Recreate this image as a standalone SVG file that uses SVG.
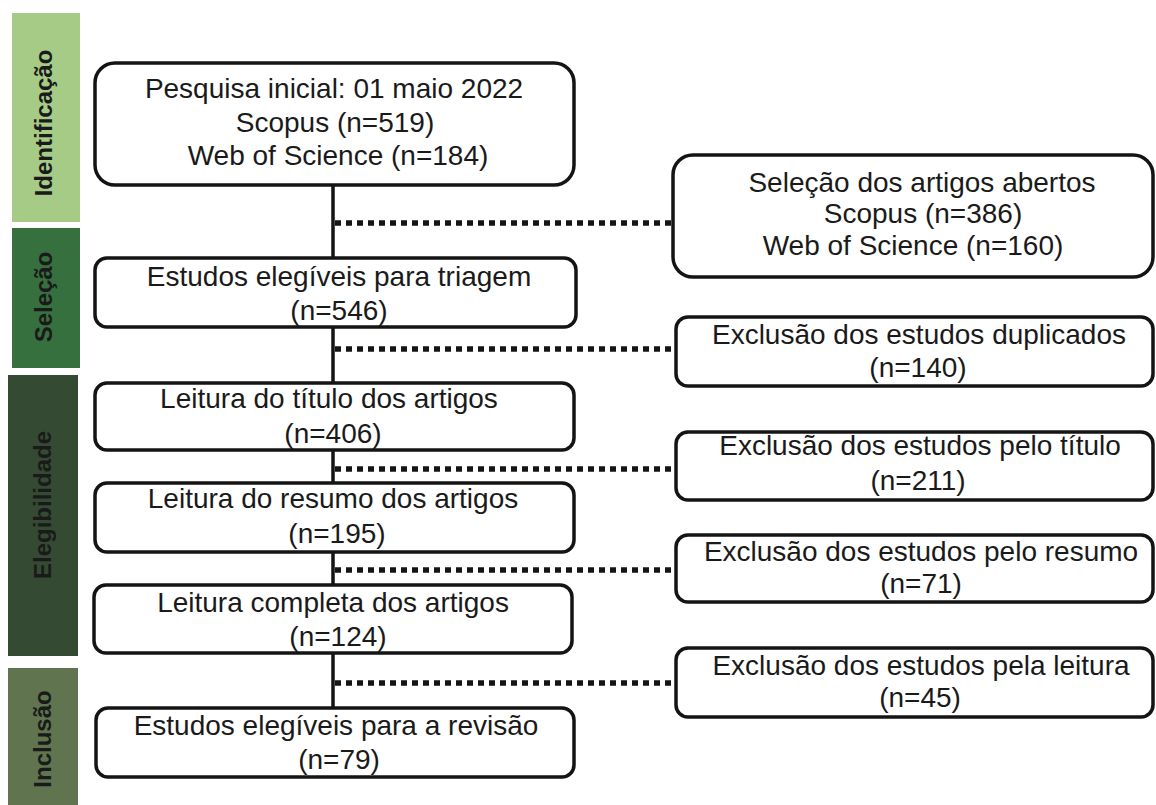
<svg xmlns="http://www.w3.org/2000/svg" width="1156" height="805" viewBox="0 0 1156 805">
<style>
.box{fill:#fff;stroke:#141414;stroke-width:3.5}
.t{font-family:"Liberation Sans",Arial,sans-serif;font-size:28px;fill:#1a1a1a;text-anchor:middle}
.band{font-family:"Liberation Sans",Arial,sans-serif;font-size:24px;font-weight:bold;fill:#1a1a1a;text-anchor:middle}
.trunk{stroke:#141414;stroke-width:3.5;fill:none}
.dot{stroke:#141414;stroke-width:5.5;stroke-dasharray:6 5;fill:none}
</style>
<rect width="1156" height="805" fill="#fff"/>
<g id="bands">
<g id="band-identificacao"><rect x="12" y="13" width="68" height="209" fill="#a6cb86"/><text class="band" transform="translate(52,123) rotate(-90)">Identificação</text></g>
<g id="band-selecao"><rect x="12" y="228" width="68" height="140" fill="#36703f"/><text class="band" transform="translate(52,297) rotate(-90)">Seleção</text></g>
<g id="band-elegibilidade"><rect x="8" y="375" width="70" height="281" fill="#344a32"/><text class="band" fill="#222" transform="translate(51,505) rotate(-90)">Elegibilidade</text></g>
<g id="band-inclusao"><rect x="8" y="668" width="70" height="137" fill="#5f744f"/><text class="band" transform="translate(51,739) rotate(-90)">Inclusão</text></g>
</g>
<g id="connectors">
<path class="trunk" d="M333 185V258M333 327V383M333 450V483M333 552V585M333 653V708"/>
<path class="dot" d="M335 223H673M335 349H676M335 469H676M335 570H676M335 683H676"/>
</g>
<g id="n1"><rect class="box" x="95" y="63" width="479" height="122" rx="20"/>
<text class="t" x="334" y="98">Pesquisa inicial: 01 maio 2022</text>
<text class="t" x="335" y="132">Scopus (n=519)</text>
<text class="t" x="338" y="165">Web of Science (n=184)</text></g>
<g id="n2"><rect class="box" x="95" y="258" width="481" height="69" rx="12"/>
<text class="t" x="339" y="286">Estudos elegíveis para triagem</text>
<text class="t" x="339" y="320">(n=546)</text></g>
<g id="n3"><rect class="box" x="95" y="383" width="479" height="67" rx="12"/>
<text class="t" x="329" y="408">Leitura do título dos artigos</text>
<text class="t" x="333" y="443">(n=406)</text></g>
<g id="n4"><rect class="box" x="95" y="483" width="479" height="69" rx="12"/>
<text class="t" x="333" y="508">Leitura do resumo dos artigos</text>
<text class="t" x="337" y="543">(n=195)</text></g>
<g id="n5"><rect class="box" x="94" y="585" width="478" height="68" rx="12"/>
<text class="t" x="333" y="612">Leitura completa dos artigos</text>
<text class="t" x="338" y="646">(n=124)</text></g>
<g id="n6"><rect class="box" x="96" y="708" width="478" height="69" rx="12"/>
<text class="t" x="336" y="735">Estudos elegíveis para a revisão</text>
<text class="t" x="339" y="769">(n=79)</text></g>
<g id="r1"><rect class="box" x="673" y="155" width="480" height="122" rx="20"/>
<text class="t" x="922" y="192">Seleção dos artigos abertos</text>
<text class="t" x="923" y="223">Scopus (n=386)</text>
<text class="t" x="913" y="255">Web of Science (n=160)</text></g>
<g id="r2"><rect class="box" x="676" y="317" width="477" height="69" rx="12"/>
<text class="t" x="919" y="344">Exclusão dos estudos duplicados</text>
<text class="t" x="918" y="377">(n=140)</text></g>
<g id="r3"><rect class="box" x="676" y="432" width="477" height="68" rx="12"/>
<text class="t" x="920" y="455">Exclusão dos estudos pelo título</text>
<text class="t" x="918" y="490">(n=211)</text></g>
<g id="r4"><rect class="box" x="676" y="535" width="477" height="67" rx="12"/>
<text class="t" x="921" y="561">Exclusão dos estudos pelo resumo</text>
<text class="t" x="921" y="593">(n=71)</text></g>
<g id="r5"><rect class="box" x="676" y="648" width="477" height="69" rx="12"/>
<text class="t" x="921" y="675">Exclusão dos estudos pela leitura</text>
<text class="t" x="920" y="707">(n=45)</text></g>
</svg>
